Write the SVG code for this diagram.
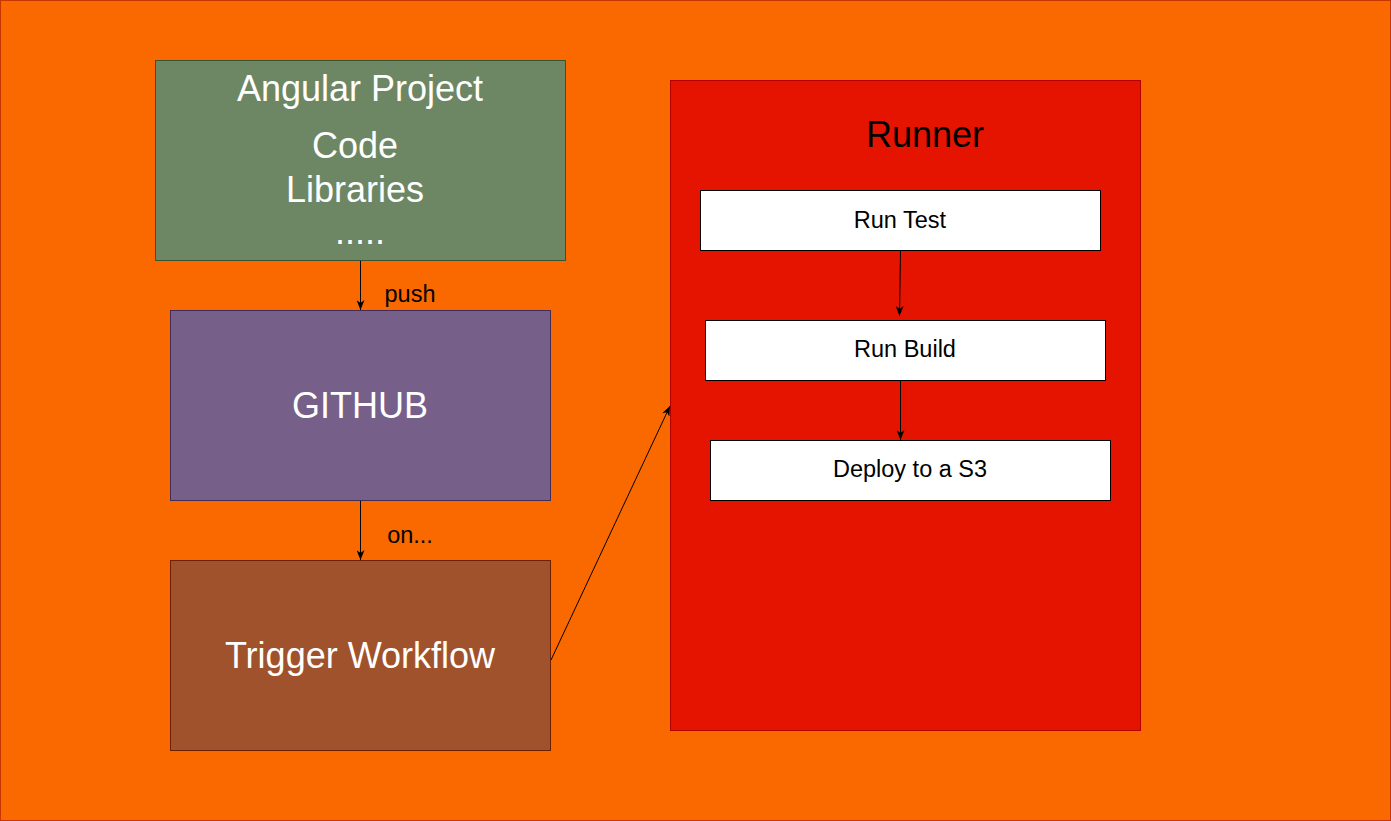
<svg xmlns="http://www.w3.org/2000/svg" width="1391" height="821" viewBox="0 0 1391 821">
<style>
text{font-family:"Liberation Sans",Arial,sans-serif;text-anchor:middle}
.big{font-size:36px;fill:#ffffff}
.small{font-size:23.5px;fill:#000000}
.step{fill:#ffffff;stroke:#000000;stroke-width:1}
.edge{fill:none;stroke:#000000;stroke-width:1}
</style>
<defs>
<marker id="arr" viewBox="0 0 10 8" refX="10" refY="4" markerWidth="10" markerHeight="8" markerUnits="userSpaceOnUse" orient="auto">
<path d="M0,0 L10,4 L0,8 L3,4 Z" fill="#000000"/>
</marker>
</defs>
<rect id="background" x="0.5" y="0.5" width="1390" height="820" fill="#fa6800" stroke="#c73500"/>
<g id="angular-project">
<rect x="155.5" y="60.5" width="410" height="200" fill="#6d8764" stroke="#3a5431"/>
<text class="big" x="360" y="101">Angular Project</text>
<text class="big" x="355" y="158">Code</text>
<text class="big" x="355" y="201.5">Libraries</text>
<text class="big" x="360" y="244">.....</text>
</g>
<g id="github">
<rect x="170.5" y="310.5" width="380" height="190" fill="#76608a" stroke="#432d57"/>
<text class="big" x="360" y="418">GITHUB</text>
</g>
<g id="trigger-workflow">
<rect x="170.5" y="560.5" width="380" height="190" fill="#a0522d" stroke="#6d1f00"/>
<text class="big" x="360" y="668">Trigger Workflow</text>
</g>
<g id="runner">
<rect x="670.5" y="80.5" width="470" height="650" fill="#e51400" stroke="#b20000"/>
<text x="925" y="147" style="font-size:36px;fill:#000000">Runner</text>
</g>
<g id="run-test">
<rect class="step" x="700.5" y="190.5" width="400" height="60"/>
<text class="small" x="900" y="228">Run Test</text>
</g>
<g id="run-build">
<rect class="step" x="705.5" y="320.5" width="400" height="60"/>
<text class="small" x="905" y="357">Run Build</text>
</g>
<g id="deploy">
<rect class="step" x="710.5" y="440.5" width="400" height="60"/>
<text class="small" x="910" y="477">Deploy to a S3</text>
</g>
<g id="connectors">
<path class="edge" d="M360.5,261 L360.5,310" marker-end="url(#arr)"/>
<text class="small" x="410" y="302">push</text>
<path class="edge" d="M360.5,501 L360.5,560" marker-end="url(#arr)"/>
<text class="small" x="410" y="543">on...</text>
<path class="edge" d="M551,660 L670,406" marker-end="url(#arr)"/>
<path class="edge" d="M900.5,251 L899.5,316" marker-end="url(#arr)"/>
<path class="edge" d="M900.5,381 L900.5,440" marker-end="url(#arr)"/>
</g>
</svg>
